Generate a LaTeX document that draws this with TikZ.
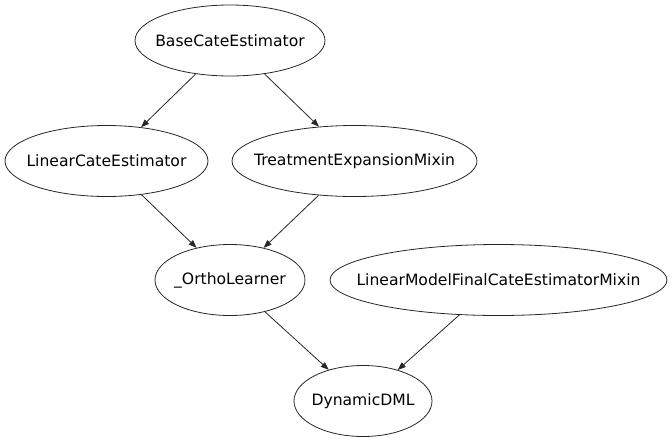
\documentclass[tikz,border=0pt]{standalone}
\usepackage{fontspec}
\setmainfont{DejaVu Sans}
\usetikzlibrary{shapes.geometric,arrows.meta}
\newcommand{\zw}[1]{\makebox[0pt]{#1}}
\begin{document}
\begin{tikzpicture}[x=1pt,y=-1pt,
  cls/.style={draw=black!85,line width=0.8pt,ellipse,inner sep=0pt,minimum height=71pt,font=\fontsize{15.6}{18}\selectfont},
  edge/.style={draw=black!85,line width=0.8pt,-{Triangle[length=8pt,width=6pt]}}]
\useasboundingbox (0,0) rectangle (672,442);
\node[cls,minimum width=190pt] (base) at (230,40.5) {\zw{BaseCateEstimator}};
\node[cls,minimum width=203pt] (lin) at (106.5,161) {\zw{LinearCateEstimator}};
\node[cls,minimum width=245pt] (treat) at (354.5,161) {\zw{TreatmentExpansionMixin}};
\node[cls,minimum width=150pt] (ortho) at (230,280) {\zw{\_OrthoLearner}};
\node[cls,minimum width=337pt] (lmf) at (498.5,280) {\zw{LinearModelFinalCateEstimatorMixin}};
\node[cls,minimum width=138pt] (dyn) at (363,401) {\zw{DynamicDML}};
\draw[edge] (base) -- (lin);
\draw[edge] (base) -- (treat);
\draw[edge] (lin) -- (ortho);
\draw[edge] (treat) -- (ortho);
\draw[edge] (ortho) -- (dyn);
\draw[edge] (lmf) -- (dyn);
\end{tikzpicture}
\end{document}
